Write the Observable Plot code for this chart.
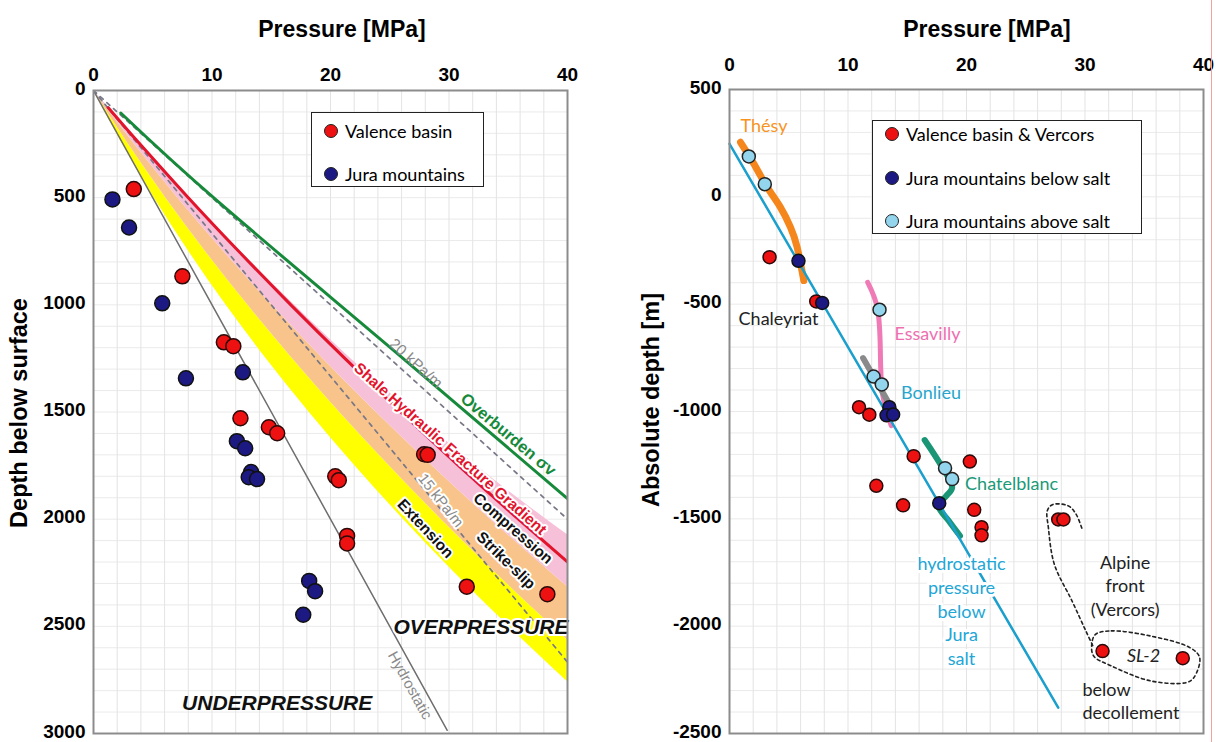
<!DOCTYPE html>
<html><head><meta charset="utf-8">
<script src="https://cdn.jsdelivr.net/npm/d3@7"></script>
<script src="https://cdn.jsdelivr.net/npm/@observablehq/plot@0.6"></script>
<style>
body{margin:0;background:#fff;}
#wrap{position:relative;width:1216px;height:742px;overflow:hidden;background:#fff;font-family:'Liberation Sans',Arial,sans-serif;}
.panel{position:absolute;top:0;}
.title{position:absolute;font-weight:bold;font-size:23px;white-space:nowrap;transform:translate(-50%,-50%);line-height:1;}
.ytitle{position:absolute;font-weight:bold;font-size:23.5px;white-space:nowrap;transform:translate(-50%,-50%) rotate(-90deg);line-height:1;}
.legend{position:absolute;border:1.5px solid #222;background:#fff;font-family:Lato,'Open Sans',sans-serif;font-size:18px;box-sizing:border-box;}
.item{position:absolute;white-space:nowrap;line-height:1;transform:translateY(-50%);}
.dot{position:absolute;width:14px;height:14px;border-radius:50%;border:1.5px solid #222;box-sizing:border-box;transform:translate(-50%,-50%);}
</style></head>
<body><div id="wrap"></div>
<script>
// ---------- shared ----------
const pressureTicks = [0, 10, 20, 30, 40];
const leftDepthTicks = [0, 500, 1000, 1500, 2000, 2500, 3000];
const rightDepthTicks = [500, 0, -500, -1000, -1500, -2000, -2500];

// ---------- LEFT PANEL DATA (pressure MPa, depth m) ----------
const valenceP = [3.4, 7.5, 11.0, 11.8, 12.4, 14.8, 15.5, 27.9, 28.2, 20.4, 20.7, 21.4, 21.4, 31.5, 38.3];
const valenceD = [460, 867, 1175, 1193, 1529, 1571, 1599, 1697, 1700, 1800, 1818, 2078, 2113, 2315, 2350];
const juraP = [1.6, 3.0, 5.8, 7.8, 12.6, 12.1, 12.8, 13.3, 13.1, 13.8, 18.2, 18.7, 17.7];
const juraD = [508, 639, 993, 1343, 1315, 1636, 1669, 1780, 1804, 1813, 2288, 2336, 2446];

// stress-regime band boundaries read at common depths
const bandDepth = [0, 250, 500, 750, 1000, 1250, 1500, 1750, 2000, 2250, 2500, 2750, 3000];
const extensionLow   = [0, 2.44, 5.11, 8.03, 11.17, 14.56, 18.18, 22.04, 26.14, 30.47, 35.04, 39.84, 44.89];
const strikeSlipLow  = [0, 2.94, 6.09, 9.44, 13.01, 16.78, 20.75, 24.94, 29.33, 33.93, 38.73, 43.75, 48.97];
const compressionLow = [0, 3.45, 7.10, 10.97, 15.05, 19.35, 23.84, 28.56, 33.49, 38.63, 43.98, 49.5, 55.3];
const compressionHigh= [0, 4.0, 8.1, 12.4, 16.95, 21.7, 26.9, 32.3, 38.2, 44.5, 51.0, 58.0, 65.5];

const fracGradP = [1.24, 3.92, 8.00, 12.25, 16.65, 21.21, 25.93, 30.81, 35.86, 41.05];
const fracGradD = [80, 250, 500, 750, 1000, 1250, 1500, 1750, 2000, 2250];
const overburdenP = [2.3, 10.4, 25.0, 40.0];
const overburdenD = [105, 513, 1197, 1904];
const hydrostaticP = [0, 29.85];
const hydrostaticD = [0, 2985];
const grad15P = [0, 40];
const grad15D = [0, 2667];
const grad20P = [0, 40];
const grad20D = [0, 2000];

// ---------- RIGHT PANEL DATA (pressure MPa, absolute depth m) ----------
const vercorsP = [3.38, 7.32, 10.93, 11.80, 15.54, 20.28, 12.39, 14.65, 20.65, 21.27, 21.27, 27.74, 28.18, 31.48, 38.25];
const vercorsY = [-281, -487, -980, -1015, -1208, -1233, -1346, -1437, -1458, -1539, -1577, -1503, -1503, -2116, -2149];
const belowSaltP = [5.82, 7.82, 13.49, 13.25, 13.81, 17.70];
const belowSaltY = [-298, -494, -980, -1018, -1014, -1427];
const aboveSaltP = [1.63, 2.98, 12.66, 12.16, 12.85, 18.19, 18.79];
const aboveSaltY = [188, 59, -526, -837, -874, -1264, -1315];

const hydroJuraP = [0, 27.74];
const hydroJuraY = [247, -2380];
const thesyP = [0.93, 2.05, 3.18, 4.30, 5.15, 5.71, 6.27];
const thesyY = [254, 154, 45, -49, -142, -235, -390];
const essavillyP = [11.66, 12.49, 12.73, 12.91, 13.65];
const essavillyY = [-398, -521, -717, -917, -1066];
const bonlieuP = [11.27, 13.49];
const bonlieuY = [-751, -965];
const chatelP = [16.47, 17.96, 18.79, 18.3, 17.63, 18.5, 19.45];
const chatelY = [-1133, -1261, -1354, -1393, -1439, -1509, -1579];
const alpineHookP = [29.73, 29.23, 28.57, 27.25, 26.82, 26.91, 27.41, 28.90, 30.07, 30.73];
const alpineHookY = [-1543, -1477, -1439, -1434, -1462, -1541, -1711, -1882, -2022, -2100];
const sl2LoopP = [30.89, 32.22, 35.54, 38.85, 39.68, 39.18, 38.52, 35.54, 32.22, 30.73, 30.57];
const sl2LoopY = [-2038, -2022, -2046, -2100, -2147, -2240, -2263, -2255, -2185, -2139, -2084];

// ---------- helpers ----------
const pts = (xs, ys) => xs.map((x, i) => ({x, y: ys[i]}));
const bands = bandDepth.map((d, i) => ({d, e0: extensionLow[i], s0: strikeSlipLow[i], c0: compressionLow[i], c1: compressionHigh[i]}));
const label = (t, x, y, o) => Plot.text([t], {x: [x], y: [y], text: d => d, ...o});
const fmt = d => String(d);
const axisStyle = {fontFamily: "'Liberation Sans', Arial, sans-serif", fontSize: "19px", fontWeight: "bold", color: "#000", background: "transparent", overflow: "visible"};
const sans = "'Liberation Sans', Arial, sans-serif";
const hum = "Lato, 'Open Sans', sans-serif";

// ---------- LEFT PLOT ----------
const left = Plot.plot({
  width: 600, height: 742,
  marginLeft: 93, marginRight: 33, marginTop: 90, marginBottom: 9,
  style: axisStyle,
  x: {domain: [0, 40], axis: "top", ticks: pressureTicks, tickSize: 0, tickPadding: 10, label: null, tickFormat: fmt},
  y: {domain: [0, 3000], reverse: true, axis: null},
  marks: [
    Plot.gridX({ticks: d3.range(2, 40, 2), stroke: "#dcdcdc", strokeOpacity: 1, strokeWidth: 0.8}),
    Plot.gridY({ticks: d3.range(100, 3000, 100), stroke: "#e4e4e4", strokeOpacity: 1, strokeWidth: 0.8}),
    Plot.areaX(bands, {y: "d", x1: "e0", x2: "s0", fill: "#ffff00", curve: "natural", clip: true}),
    Plot.areaX(bands, {y: "d", x1: "s0", x2: "c0", fill: "#f8c48c", curve: "natural", clip: true}),
    Plot.areaX(bands, {y: "d", x1: "c0", x2: "c1", fill: "#f6c0d8", curve: "natural", clip: true}),
    Plot.line(pts(hydrostaticP, hydrostaticD), {x: "x", y: "y", stroke: "#6e6e6e", strokeWidth: 1.5, clip: true}),
    Plot.line(pts(grad15P, grad15D), {x: "x", y: "y", stroke: "#777787", strokeWidth: 1.7, strokeDasharray: "4,5", clip: true}),
    Plot.line(pts(grad20P, grad20D), {x: "x", y: "y", stroke: "#777787", strokeWidth: 1.7, strokeDasharray: "4,5", clip: true}),
    Plot.line(pts(fracGradP, fracGradD), {x: "x", y: "y", stroke: "#e2142c", strokeWidth: 3, curve: "natural", clip: true}),
    Plot.line(pts(overburdenP, overburdenD), {x: "x", y: "y", stroke: "#168a3a", strokeWidth: 3, curve: "natural", clip: true}),
    Plot.dot(pts(valenceP, valenceD), {x: "x", y: "y", r: 7.5, fill: "#ee1111", stroke: "#2a0a0a", strokeWidth: 1.5}),
    Plot.dot(pts(juraP, juraD), {x: "x", y: "y", r: 7.5, fill: "#1c1a82", stroke: "#111", strokeWidth: 1.5}),
    label("20 kPa/m", 27.2, 1274, {rotate: 42, fill: "#8a8a8a", fontSize: 15.5, fontWeight: "normal", fontFamily: sans}),
    label("Overburden σv", 35.0, 1605, {rotate: 40, fill: "#168a3a", fontSize: 16.5, fontWeight: "bold", fontFamily: sans}),
    label("Shale Hydraulic Fracture Gradient", 30.1, 1672, {rotate: 41.5, fill: "#e2142c", fontSize: 15.5, fontWeight: "bold", fontFamily: sans, stroke: "white", strokeWidth: 4}),
    label("15 kPa/m", 29.3, 1913, {rotate: 52, fill: "#8a8a8a", fontSize: 15, fontWeight: "normal", fontFamily: sans, stroke: "white", strokeWidth: 4}),
    label("Compression", 35.4, 2044, {rotate: 41, fill: "#111", fontSize: 15.5, fontWeight: "bold", fontFamily: sans, stroke: "white", strokeWidth: 4}),
    label("Strike-slip", 34.8, 2193, {rotate: 44, fill: "#111", fontSize: 15.5, fontWeight: "bold", fontFamily: sans, stroke: "white", strokeWidth: 4}),
    label("Extension", 28.0, 2044, {rotate: 47, fill: "#111", fontSize: 15.5, fontWeight: "bold", fontFamily: sans, stroke: "white", strokeWidth: 4}),
    label("OVERPRESSURE", 32.7, 2505, {fill: "#111", fontSize: 21, fontWeight: "bold", fontStyle: "italic", fontFamily: sans, stroke: "white", strokeWidth: 4}),
    label("UNDERPRESSURE", 15.5, 2860, {fill: "#111", fontSize: 21, fontWeight: "bold", fontStyle: "italic", fontFamily: sans}),
    label("Hydrostatic", 26.7, 2776, {rotate: 61, fill: "#8a8a8a", fontSize: 15, fontWeight: "normal", fontFamily: sans}),
    Plot.axisY({ticks: leftDepthTicks, tickSize: 0, tickPadding: 8, tickFormat: fmt, label: null, dy: -2}),
    Plot.frame({stroke: "#8c8c8c", strokeWidth: 2})
  ]
});

// ---------- RIGHT PLOT ----------
const right = Plot.plot({
  width: 616, height: 742,
  marginLeft: 129, marginRight: 13, marginTop: 89, marginBottom: 9,
  style: axisStyle,
  x: {domain: [0, 40], axis: "top", ticks: pressureTicks, tickSize: 0, tickPadding: 19, label: null, tickFormat: fmt},
  y: {domain: [-2500, 500], axis: null},
  marks: [
    Plot.gridX({ticks: d3.range(2, 40, 2), stroke: "#dcdcdc", strokeOpacity: 1, strokeWidth: 0.8}),
    Plot.gridY({ticks: d3.range(-2400, 500, 100), stroke: "#e4e4e4", strokeOpacity: 1, strokeWidth: 0.8}),
    Plot.line(pts(thesyP, thesyY), {x: "x", y: "y", stroke: "#f5861c", strokeWidth: 7, curve: "natural"}),
    Plot.line(pts(essavillyP, essavillyY), {x: "x", y: "y", stroke: "#f07ab6", strokeWidth: 5, curve: "natural"}),
    Plot.line(pts(bonlieuP, bonlieuY), {x: "x", y: "y", stroke: "#8a8a8a", strokeWidth: 6}),
    Plot.line(pts(chatelP, chatelY), {x: "x", y: "y", stroke: "#1a9676", strokeWidth: 6, curve: "catmull-rom"}),
    Plot.line(pts(hydroJuraP, hydroJuraY), {x: "x", y: "y", stroke: "#1b9fcc", strokeWidth: 2.5}),
    Plot.line(pts(alpineHookP, alpineHookY), {x: "x", y: "y", stroke: "#222", strokeWidth: 1.6, strokeDasharray: "3,3", curve: "catmull-rom"}),
    Plot.line(pts(sl2LoopP, sl2LoopY), {x: "x", y: "y", stroke: "#222", strokeWidth: 1.6, strokeDasharray: "3,3", curve: "catmull-rom-closed"}),
    Plot.dot(pts(vercorsP, vercorsY), {x: "x", y: "y", r: 6.5, fill: "#ee1111", stroke: "#2a0a0a", strokeWidth: 1.5}),
    Plot.dot(pts(belowSaltP, belowSaltY), {x: "x", y: "y", r: 6.5, fill: "#1c1a82", stroke: "#111", strokeWidth: 1.5}),
    Plot.dot(pts(aboveSaltP, aboveSaltY), {x: "x", y: "y", r: 6.5, fill: "#92d5ec", stroke: "#222", strokeWidth: 1.5}),
    label("Thésy", 0.93, 328, {textAnchor: "start", fill: "#f7931e", fontSize: 18, fontWeight: "normal", fontFamily: hum}),
    label("Chaleyriat", 4.14, -568, {fill: "#222", fontSize: 18, fontWeight: "normal", fontFamily: hum}),
    label("Essavilly", 13.92, -638, {textAnchor: "start", fill: "#ee6fb0", fontSize: 18, fontWeight: "normal", fontFamily: hum}),
    label("Bonlieu", 14.48, -917, {textAnchor: "start", fill: "#27a5cc", fontSize: 18, fontWeight: "normal", fontFamily: hum}),
    label("Chatelblanc", 19.88, -1337, {textAnchor: "start", fill: "#1a9a78", fontSize: 18, fontWeight: "normal", fontFamily: hum}),
    label("hydrostatic\npressure\nbelow\nJura\nsalt", 19.58, -1924, {fill: "#22a6d6", fontSize: 18, lineHeight: 1.33, fontWeight: "normal", fontFamily: hum, stroke: "white", strokeWidth: 6}),
    label("Alpine\nfront\n(Vercors)", 33.38, -1808, {fill: "#222", fontSize: 18, lineHeight: 1.3, fontWeight: "normal", fontFamily: hum}),
    label("SL-2", 34.94, -2139, {fill: "#222", fontSize: 18, fontStyle: "italic", fontWeight: "normal", fontFamily: hum}),
    label("below\ndecollement", 29.79, -2343, {textAnchor: "start", fill: "#222", fontSize: 18, lineHeight: 1.3, fontWeight: "normal", fontFamily: hum}),
    Plot.axisY({ticks: rightDepthTicks, tickSize: 0, tickPadding: 8, tickFormat: fmt, label: null, dy: -2}),
    Plot.frame({stroke: "#8c8c8c", strokeWidth: 2})
  ]
});

// ---------- assemble ----------
const wrap = document.getElementById("wrap");
left.classList.add("panel"); left.style.left = "0px";
right.classList.add("panel"); right.style.left = "600px";
wrap.appendChild(left); wrap.appendChild(right);

function addDiv(cls, text, x, y) {
  const d = document.createElement("div");
  d.className = cls; d.textContent = text;
  d.style.left = x + "px"; d.style.top = y + "px";
  wrap.appendChild(d); return d;
}
addDiv("title", "Pressure [MPa]", 342, 29);
addDiv("title", "Pressure [MPa]", 987, 29);
addDiv("ytitle", "Depth below surface", 20, 413);
addDiv("ytitle", "Absolute depth [m]", 652, 400);

// legends
const leftLegend = [["Valence basin", "#ee1111"], ["Jura mountains", "#1c1a82"]];
const rightLegend = [["Valence basin & Vercors", "#ee1111"], ["Jura mountains below salt", "#1c1a82"], ["Jura mountains above salt", "#92d5ec"]];
function legend(items, box, rows) {
  const b = document.createElement("div");
  b.className = "legend";
  Object.assign(b.style, {left: box[0] + "px", top: box[1] + "px", width: box[2] + "px", height: box[3] + "px"});
  items.forEach(([t, c], i) => {
    const dot = document.createElement("div");
    dot.className = "dot"; dot.style.background = c;
    dot.style.left = "19px"; dot.style.top = rows[i] + "px";
    const s = document.createElement("div");
    s.className = "item"; s.textContent = t;
    s.style.left = "33px"; s.style.top = rows[i] + "px";
    b.appendChild(dot); b.appendChild(s);
  });
  wrap.appendChild(b);
}
legend(leftLegend, [311, 112, 173, 75], [18, 61]);
legend(rightLegend, [872, 120, 270, 114], [13, 57, 100]);

// crop edge line at far right
const edge = document.createElement("div");
Object.assign(edge.style, {position: "absolute", left: "1211px", top: "0px", width: "1px", height: "742px", background: "#f2a0a0"});
wrap.appendChild(edge);
</script>
</body></html>
